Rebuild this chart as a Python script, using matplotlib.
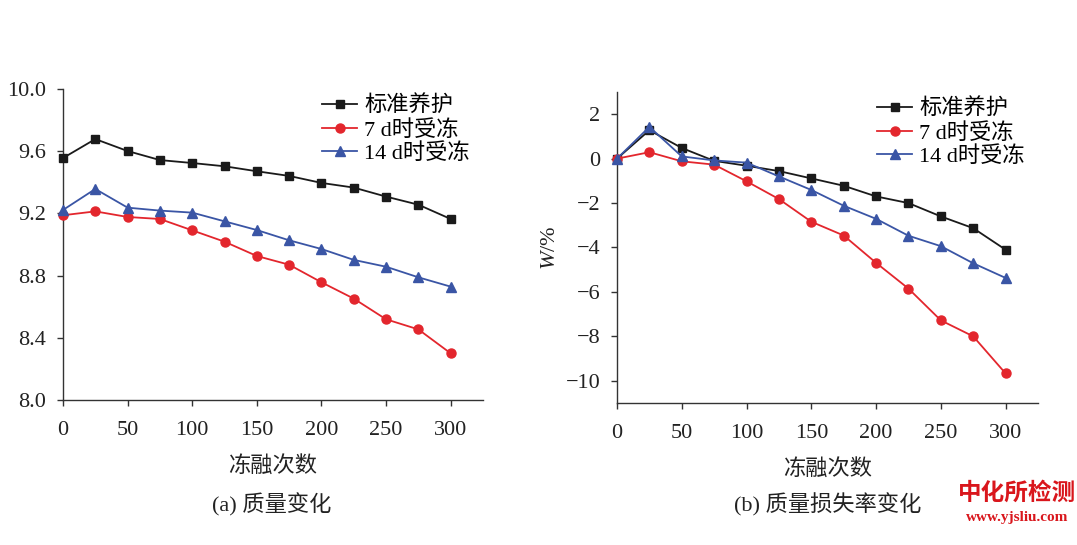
import matplotlib
matplotlib.use("Agg")
import matplotlib.pyplot as plt

plt.rcParams['font.family'] = ['Liberation Serif', 'Noto Sans CJK SC']
plt.rcParams['axes.unicode_minus'] = True
plt.rcParams['mathtext.fontset'] = 'custom'
plt.rcParams['mathtext.it'] = 'Liberation Serif:italic'
plt.rcParams['mathtext.rm'] = 'Liberation Serif'

cycles = [0, 25, 50, 75, 100, 125, 150, 175, 200, 225, 250, 275, 300]
series_names = ["标准养护", "7 d时受冻", "14 d时受冻"]

mass_std = [9.556, 9.678, 9.601, 9.543, 9.524, 9.503, 9.471, 9.441, 9.396, 9.366, 9.308, 9.256, 9.164]
mass_7d = [9.188, 9.213, 9.177, 9.164, 9.091, 9.018, 8.926, 8.870, 8.757, 8.652, 8.519, 8.454, 8.300]
mass_14d = [9.222, 9.357, 9.237, 9.218, 9.205, 9.149, 9.093, 9.027, 8.971, 8.901, 8.857, 8.789, 8.729]

loss_std = [0.0, 1.28, 0.48, -0.10, -0.32, -0.56, -0.89, -1.22, -1.70, -2.00, -2.60, -3.13, -4.10]
loss_7d = [0.0, 0.29, -0.12, -0.27, -1.02, -1.82, -2.84, -3.46, -4.69, -5.85, -7.28, -8.00, -9.67]
loss_14d = [0.0, 1.43, 0.10, -0.08, -0.18, -0.80, -1.41, -2.12, -2.71, -3.47, -3.94, -4.71, -5.37]

left_yticks = [8.0, 8.4, 8.8, 9.2, 9.6, 10.0]
right_yticks = [2, 0, -2, -4, -6, -8, -10]
xticks = [0, 50, 100, 150, 200, 250, 300]

colors = ['#1a1a1a', '#e3262d', '#3a55a5']
markers = ['s', 'o', '^']
msizes = [5.5, 6.5, 6.5]

W, H = 1077, 545
fig = plt.figure(figsize=(W / 100, H / 100), dpi=100)

ax1 = fig.add_axes([63 / W, (H - 400) / H, 420 / W, 311 / H])
ax2 = fig.add_axes([617 / W, (H - 403) / H, 421 / W, 311 / H])

def style(ax):
    for s in ['top', 'right']:
        ax.spines[s].set_visible(False)
    for s in ['left', 'bottom']:
        ax.spines[s].set_color('#333333')
        ax.spines[s].set_linewidth(1.0)
    ax.tick_params(direction='out', length=4, width=1.0, colors='#333333',
                   labelsize=16, labelcolor='#222222')
    ax.tick_params(axis='x', pad=11)
    ax.tick_params(axis='y', pad=8)
    ax.set_xlim(0, 325)
    ax.set_xticks(xticks)
    ax.set_xticklabels([str(v) for v in xticks])

for ax, data in [(ax1, [mass_std, mass_7d, mass_14d]), (ax2, [loss_std, loss_7d, loss_14d])]:
    for name, d, c, m, ms in zip(series_names, data, colors, markers, msizes):
        ax.plot(cycles, d, color=c, marker=m, markersize=ms, linewidth=1.3,
                label=name, clip_on=False, zorder=3)
    style(ax)
    ax.set_xlabel("冻融次数", fontsize=16, color='#222222', labelpad=12)
    ax.legend(loc='upper right', bbox_to_anchor=(1.0, 1.02), frameon=False, fontsize=16,
              handlelength=1.6, handletextpad=0.3, labelspacing=0.12, borderaxespad=0.2)

ax1.set_ylim(8.0, 10.0)
ax1.set_yticks(left_yticks)
ax1.set_yticklabels([f"{v:.1f}" for v in left_yticks])

ax2.set_ylim(-11, 3)
ax2.set_yticks(right_yticks)
ax2.set_yticklabels([str(v).replace('-', '\u2212') for v in right_yticks])
ax2.set_ylabel("$W$/%", fontsize=16, color='#222222', labelpad=4)

fig.text(272 / W, 1 - 505 / H, "(a) 质量变化", ha='center', va='center', fontsize=16, color='#222222')
fig.text(828 / W, 1 - 505 / H, "(b) 质量损失率变化", ha='center', va='center', fontsize=16, color='#222222')

fig.text(1017 / W, 1 - 493 / H, "中化所检测", ha='center', va='center', fontsize=17,
         color='#d9161c', fontweight='bold', family=['Noto Sans CJK SC'])
fig.text(1017 / W, 1 - 518 / H, "www.yjsliu.com", ha='center', va='center', fontsize=11,
         color='#d9161c', fontweight='bold', family=['Liberation Serif'])

fig.savefig("out.png", dpi=100)
